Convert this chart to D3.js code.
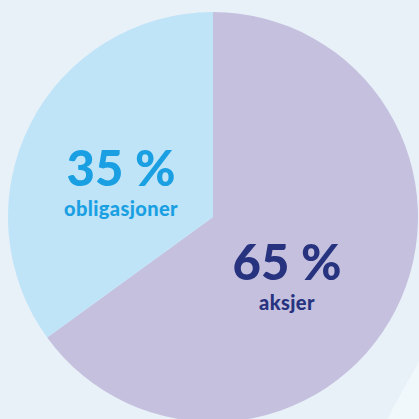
<!DOCTYPE html>
<html lang="no">
<head>
<meta charset="utf-8">
<title>Aksjer og obligasjoner</title>
<script src="https://cdn.jsdelivr.net/npm/d3@7"></script>
<style>
  html, body { margin: 0; padding: 0; background: #e8f0f8; }
  svg { display: block; }
  .pct { font-family: Lato, "Noto Sans", sans-serif; font-weight: 900; }
  .lbl { font-family: Lato, "Noto Sans", sans-serif; font-weight: 900; letter-spacing: 0.4px; }
</style>
</head>
<body>
<div id="chart"></div>
<script>
// chart data
const categories = ["aksjer", "obligasjoner"];
const shares = [65, 35];
const pctLabels = ["65 %", "35 %"];
const colors = ["#c4c0de", "#bfe4f8"];
const textColors = ["#27337f", "#1aa0e2"];

const w = 419, h = 419;
const cx = 213, cy = 217, r = 205;
// where the text sits inside each slice (x centre, baseline of the percent), from the pie centre
const labelPos = [[74, 63], [-92, -31]];

const svg = d3.select("#chart").append("svg")
  .attr("width", w)
  .attr("height", h);

svg.append("rect")
  .attr("width", w).attr("height", h)
  .attr("fill", "#e8f0f8");

// light decorative band in the bottom right corner
svg.append("path")
  .attr("d", "M387,419 L419,361 L419,419 Z")
  .attr("fill", "#f1f8fc");

const g = svg.append("g")
  .attr("transform", "translate(" + cx + "," + cy + ")");

const pie = d3.pie().sort(null).value(d => d);
const arc = d3.arc().innerRadius(0).outerRadius(r);

const arcs = pie(shares);

g.selectAll("path.slice")
  .data(arcs)
  .join("path")
  .attr("class", "slice")
  .attr("d", arc)
  .attr("fill", (d, i) => colors[i]);

const labels = g.selectAll("g.label")
  .data(arcs)
  .join("g")
  .attr("class", "label")
  .attr("transform", (d, i) => "translate(" + labelPos[i][0] + "," + labelPos[i][1] + ")");

labels.append("text")
  .attr("class", "pct")
  .attr("text-anchor", "middle")
  .attr("font-size", 49)
  .attr("fill", (d, i) => textColors[i])
  .text((d, i) => pctLabels[i]);

labels.append("text")
  .attr("class", "lbl")
  .attr("text-anchor", "middle")
  .attr("y", 30)
  .attr("font-size", 20)
  .attr("fill", (d, i) => textColors[i])
  .text((d, i) => categories[i]);
</script>
</body>
</html>
